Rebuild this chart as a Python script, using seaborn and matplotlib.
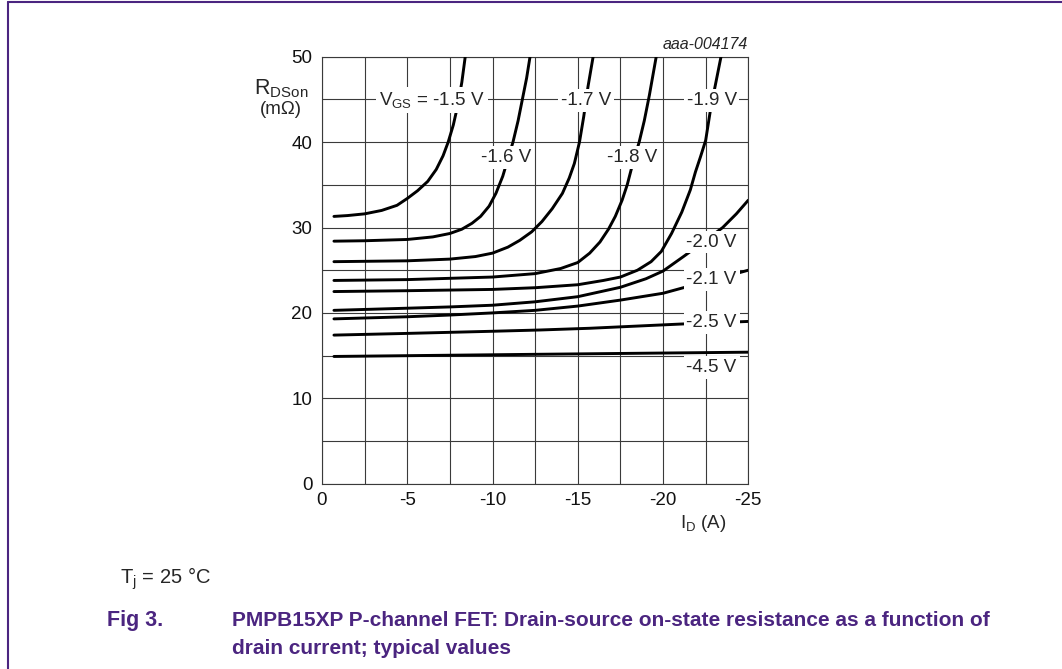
import matplotlib
matplotlib.use("Agg")
import matplotlib.pyplot as plt
import numpy as np
import pandas as pd
import seaborn as sns

# R_DSon (mOhm) vs I_D (A)
id_15 = [-0.7, -1.5, -2.5, -3.5, -4.4, -5.0, -5.6, -6.2, -6.7, -7.1, -7.4, -7.7, -7.95, -8.2, -8.4]
r_15 = [31.3, 31.4, 31.6, 32.0, 32.6, 33.4, 34.3, 35.4, 36.8, 38.4, 40.0, 42.0, 44.2, 47.0, 50.0]

id_16 = [-0.7, -2.5, -5.0, -6.5, -7.5, -8.2, -8.8, -9.3, -9.8, -10.2, -10.6, -10.9, -11.2, -11.5, -11.75, -12.0, -12.2]
r_16 = [28.4, 28.45, 28.6, 28.9, 29.3, 29.8, 30.5, 31.3, 32.5, 34.0, 36.0, 38.0, 40.0, 42.5, 45.0, 47.5, 50.0]

id_17 = [-0.7, -5.0, -7.5, -9.0, -10.0, -10.9, -11.6, -12.3, -12.9, -13.5, -14.1, -14.5, -14.8, -15.1, -15.35, -15.6, -15.9]
r_17 = [26.0, 26.1, 26.3, 26.6, 27.0, 27.7, 28.5, 29.5, 30.7, 32.2, 34.0, 35.8, 37.5, 40.0, 43.0, 46.5, 50.0]

id_18 = [-0.7, -5.0, -10.0, -12.5, -14.0, -15.0, -15.7, -16.3, -16.8, -17.2, -17.6, -17.9, -18.2, -18.6, -18.9, -19.2, -19.6]
r_18 = [23.8, 23.9, 24.2, 24.6, 25.2, 25.9, 27.0, 28.3, 29.8, 31.3, 33.2, 35.0, 37.3, 40.0, 42.5, 45.5, 50.0]

id_19 = [-0.7, -5.0, -10.0, -12.5, -15.0, -16.5, -17.5, -18.5, -19.3, -19.9, -20.5, -21.1, -21.6, -21.9, -22.2, -22.5, -22.8, -23.1, -23.4]
r_19 = [22.5, 22.6, 22.75, 22.95, 23.3, 23.8, 24.2, 25.0, 26.0, 27.2, 29.3, 31.8, 34.4, 36.5, 38.3, 40.2, 44.0, 47.0, 50.0]

id_20 = [-0.7, -5.0, -7.5, -10.0, -12.5, -15.0, -17.5, -19.0, -20.0, -21.2, -22.3, -23.5, -24.3, -25.0]
r_20 = [20.3, 20.55, 20.7, 20.9, 21.3, 21.9, 23.0, 24.0, 24.9, 26.6, 28.2, 30.0, 31.6, 33.2]

id_21 = [-0.7, -5.0, -7.5, -10.0, -12.5, -15.0, -17.5, -20.0, -21.1, -23.0, -25.0]
r_21 = [19.3, 19.55, 19.75, 20.0, 20.3, 20.8, 21.5, 22.3, 22.9, 23.9, 25.0]

id_25 = [-0.7, -5.0, -10.0, -12.8, -15.7, -21.1, -25.0]
r_25 = [17.4, 17.6, 17.85, 18.0, 18.2, 18.7, 19.0]

id_45 = [-0.7, -12.5, -25.0]
r_45 = [14.9, 15.15, 15.4]

curves = {
    "-1.5": (id_15, r_15), "-1.6": (id_16, r_16), "-1.7": (id_17, r_17),
    "-1.8": (id_18, r_18), "-1.9": (id_19, r_19), "-2.0": (id_20, r_20),
    "-2.1": (id_21, r_21), "-2.5": (id_25, r_25), "-4.5": (id_45, r_45),
}

# curve labels: (text, x, y)
curve_labels = [
    (r"$\mathregular{V_{GS}}$ = -1.5 V", -6.45, 44.9),
    ("-1.6 V", -10.8, 38.2),
    ("-1.7 V", -15.5, 44.9),
    ("-1.8 V", -18.2, 38.2),
    ("-1.9 V", -22.85, 44.9),
    ("-2.0 V", -22.85, 28.3),
    ("-2.1 V", -22.85, 23.9),
    ("-2.5 V", -22.85, 18.85),
    ("-4.5 V", -22.85, 13.6),
]

x_ticks = [0, -5, -10, -15, -20, -25]
y_ticks = [0, 10, 20, 30, 40, 50]

purple = "#4b2580"

df = pd.concat(
    [pd.DataFrame({"id": x, "r": y, "vgs": k}) for k, (x, y) in curves.items()],
    ignore_index=True,
)

sns.set_theme(style="white")
plt.rcParams["font.family"] = ["Liberation Sans", "DejaVu Sans"]
plt.rcParams["mathtext.fontset"] = "custom"
plt.rcParams["mathtext.rm"] = "Liberation Sans"
plt.rcParams["axes.unicode_minus"] = False

fig = plt.figure(figsize=(10.62, 6.69), dpi=100)
ax = fig.add_axes([0.3032, 0.277, 0.4014, 0.6382])

sns.lineplot(data=df, x="id", y="r", units="vgs", estimator=None, sort=False,
             color="black", lw=2.1, ax=ax, legend=False, zorder=3)

ax.set_xlim(0, -25)
ax.set_ylim(0, 50)

# grid every 2.5 A / 5 mOhm, labels only at the main values
xg = np.arange(0, -25.1, -2.5)
yg = np.arange(0, 50.1, 5)
ax.set_xticks(xg)
ax.set_xticklabels([f"{int(v)}" if v in x_ticks else "" for v in xg])
ax.set_yticks(yg)
ax.set_yticklabels([f"{int(v)}" if v in y_ticks else "" for v in yg])
ax.grid(True, color="#3a3a3a", lw=0.8)
ax.tick_params(length=0, labelsize=13.5, colors="#111111")
ax.tick_params(axis="y", pad=7)
ax.tick_params(axis="x", pad=6)
for s in ax.spines.values():
    s.set_color("#3a3a3a")
    s.set_linewidth(0.8)
ax.set_xlabel("")
ax.set_ylabel("")

for txt, x, y in curve_labels:
    ax.text(x, y, txt, fontsize=13.5, ha="center", va="center", zorder=4,
            bbox=dict(facecolor="white", edgecolor="none", pad=2))

# y label in two lines, as in the datasheet
ax.text(-0.096, 0.925, r"$\mathregular{R_{DSon}}$", transform=ax.transAxes,
        fontsize=15.5, ha="center", va="center")
ax.text(-0.096, 0.876, "(m\u03a9)", transform=ax.transAxes,
        fontsize=13.5, ha="center", va="center")
ax.text(0.895, -0.093, r"$\mathregular{I_D}$ (A)", transform=ax.transAxes,
        fontsize=13.5, ha="center", va="center")
ax.text(1.0, 1.028, "aaa-004174", transform=ax.transAxes, fontsize=11.5,
        style="italic", ha="right", va="center")

fig.text(120 / 1062, 1 - 579 / 669, r"$\mathregular{T_j}$ = 25 " + "\u00b0C", fontsize=14.5,
         ha="left", va="center")

# caption
fig.text(107 / 1062, 1 - 626 / 669, "Fig 3.", fontsize=15.5, fontweight="bold",
         color=purple, ha="left", va="baseline")
fig.text(232 / 1062, 1 - 626 / 669,
         "PMPB15XP P-channel FET: Drain-source on-state resistance as a function of",
         fontsize=15, fontweight="bold", color=purple, ha="left", va="baseline")
fig.text(232 / 1062, 1 - 654 / 669, "drain current; typical values",
         fontsize=15, fontweight="bold", color=purple, ha="left", va="baseline")

# purple frame at top and left
fig.add_artist(plt.Line2D([8 / 1062, 1], [1 - 2 / 669, 1 - 2 / 669], color=purple, lw=1.5))
fig.add_artist(plt.Line2D([8 / 1062, 8 / 1062], [0, 1 - 2 / 669], color=purple, lw=1.5))

fig.savefig("out.png", dpi=100)
